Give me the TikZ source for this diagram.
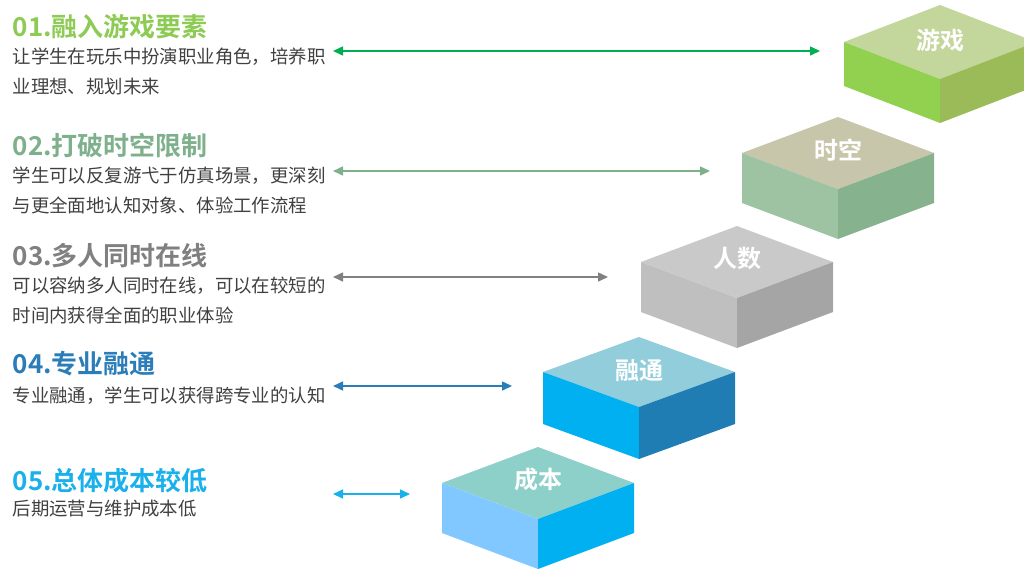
\documentclass[tikz,border=0pt]{standalone}
\usepackage{fontspec}
\setmainfont{Noto Sans CJK SC}[BoldFont={Noto Sans CJK SC Bold}]
\usetikzlibrary{arrows.meta}

\definecolor{textgray}{HTML}{404040}
\definecolor{green1}{HTML}{8DCB55}
\definecolor{green2}{HTML}{7FB08C}
\definecolor{gray3}{HTML}{808080}
\definecolor{blue4}{HTML}{2A7DB8}
\definecolor{blue5}{HTML}{1AB0EC}
\definecolor{arrow1}{HTML}{00B050}

\begin{document}
\begin{tikzpicture}[x=1pt, y=-1pt,
                    line width=1.5pt,
                    >={Triangle[length=10pt,width=9pt]}]
    \tikzstyle{title}=[anchor=base west, inner sep=0pt, font=\fontsize{26}{30}\selectfont\bfseries]
    \tikzstyle{desc}=[anchor=base west, inner sep=0pt, align=left, text=textgray, font=\fontsize{18.4}{30}\selectfont]
    \tikzstyle{cube}=[text=white, inner sep=0pt, font=\fontsize{24}{26}\selectfont\bfseries]

    \clip (0,0) rectangle (1024,568);

    % blocks, top to bottom
    \begin{scope}[shift={(940,5)}]
        \fill[fill={rgb,255:red,195;green,214;blue,155}] (0,0) -- (96,37) -- (0,74) -- (-96,37) -- cycle;
        \fill[fill={rgb,255:red,146;green,208;blue,80}] (-96,37) -- (0,74) -- (0,118) -- (-96,81) -- cycle;
        \fill[fill={rgb,255:red,155;green,187;blue,89}] (96,37) -- (0,74) -- (0,118) -- (96,81) -- cycle;
        \node[cube] (c1) at (0,35) {游戏};
    \end{scope}
    \begin{scope}[shift={(838,117)}]
        \fill[fill={rgb,255:red,200;green,198;blue,170}] (0,0) -- (96,36) -- (0,72) -- (-96,36) -- cycle;
        \fill[fill={rgb,255:red,157;green,195;blue,162}] (-96,36) -- (0,72) -- (0,122) -- (-96,86) -- cycle;
        \fill[fill={rgb,255:red,134;green,178;blue,142}] (96,36) -- (0,72) -- (0,122) -- (96,86) -- cycle;
        \node[cube] (c2) at (0,33) {时空};
    \end{scope}
    \begin{scope}[shift={(737,226)}]
        \fill[fill={rgb,255:red,201;green,201;blue,201}] (0,0) -- (96,36) -- (0,72) -- (-96,36) -- cycle;
        \fill[fill={rgb,255:red,191;green,191;blue,191}] (-96,36) -- (0,72) -- (0,122) -- (-96,86) -- cycle;
        \fill[fill={rgb,255:red,165;green,165;blue,165}] (96,36) -- (0,72) -- (0,122) -- (96,86) -- cycle;
        \node[cube] (c3) at (0,32) {人数};
    \end{scope}
    \begin{scope}[shift={(639,337)}]
        \fill[fill={rgb,255:red,146;green,205;blue,220}] (0,0) -- (96,35) -- (0,70) -- (-96,35) -- cycle;
        \fill[fill={rgb,255:red,0;green,176;blue,240}] (-96,35) -- (0,70) -- (0,122) -- (-96,87) -- cycle;
        \fill[fill={rgb,255:red,31;green,125;blue,180}] (96,35) -- (0,70) -- (0,122) -- (96,87) -- cycle;
        \node[cube] (c4) at (0,34) {融通};
    \end{scope}
    \begin{scope}[shift={(538,447)}]
        \fill[fill={rgb,255:red,141;green,207;blue,201}] (0,0) -- (96,36) -- (0,72) -- (-96,36) -- cycle;
        \fill[fill={rgb,255:red,128;green,200;blue,255}] (-96,36) -- (0,72) -- (0,122) -- (-96,86) -- cycle;
        \fill[fill={rgb,255:red,0;green,176;blue,240}] (96,36) -- (0,72) -- (0,122) -- (96,86) -- cycle;
        \node[cube] (c5) at (0,32) {成本};
    \end{scope}

    % texts (two-line nodes sit on their last baseline)
    \node[title, text=green1] (t1) at (12,36) {01.融入游戏要素};
    \node[desc] (d1) at (12,93) {让学生在玩乐中扮演职业角色，培养职\\业理想、规划未来};
    \node[title, text=green2] (t2) at (12,155) {02.打破时空限制};
    \node[desc] (d2) at (12,212) {学生可以反复游弋于仿真场景，更深刻\\与更全面地认知对象、体验工作流程};
    \node[title, text=gray3] (t3) at (12,265) {03.多人同时在线};
    \node[desc] (d3) at (12,322) {可以容纳多人同时在线，可以在较短的\\时间内获得全面的职业体验};
    \node[title, text=blue4] (t4) at (12,373) {04.专业融通};
    \node[desc] (d4) at (12,402) {专业融通，学生可以获得跨专业的认知};
    \node[title, text=blue5] (t5) at (12,490) {05.总体成本较低};
    \node[desc] (d5) at (12,515) {后期运营与维护成本低};

    % arrows
    \coordinate (l1) at (333,51);  \coordinate (r1) at (820,51);
    \coordinate (l2) at (333,171); \coordinate (r2) at (710,171);
    \coordinate (l3) at (333,277); \coordinate (r3) at (608,277);
    \coordinate (l4) at (333,386); \coordinate (r4) at (512,386);
    \coordinate (l5) at (333,494); \coordinate (r5) at (410,494);
    \draw[<->, draw=arrow1, fill=arrow1] (l1) -- (r1);
    \draw[<->, draw=green2, fill=green2] (l2) -- (r2);
    \draw[<->, draw=gray3, fill=gray3] (l3) -- (r3);
    \draw[<->, draw=blue4, fill=blue4] (l4) -- (r4);
    \draw[<->, draw=blue5, fill=blue5] (l5) -- (r5);
\end{tikzpicture}
\end{document}
